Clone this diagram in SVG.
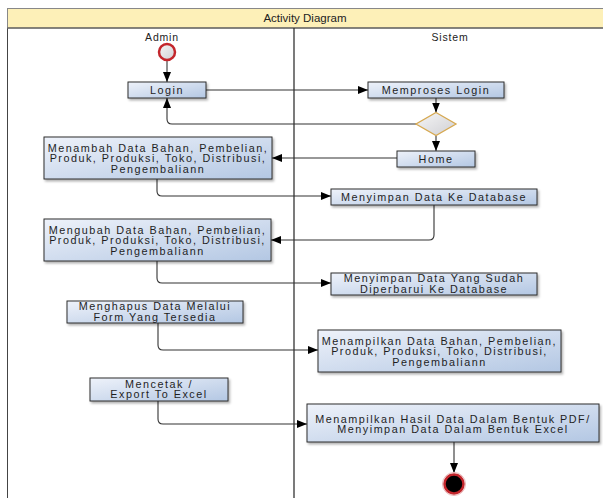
<svg xmlns="http://www.w3.org/2000/svg" width="603" height="498" viewBox="0 0 603 498">
<defs>
<linearGradient id="boxg" x1="0" y1="0" x2="1" y2="1">
<stop offset="0" stop-color="#eef2fa"/>
<stop offset="1" stop-color="#b3c7e3"/>
</linearGradient>
<linearGradient id="grayg" x1="0" y1="0" x2="1" y2="1">
<stop offset="0" stop-color="#f6f6f6"/>
<stop offset="1" stop-color="#cfcfd4"/>
</linearGradient>
<filter id="sh" x="-10%" y="-20%" width="130%" height="160%">
<feDropShadow dx="1.5" dy="2" stdDeviation="1.2" flood-color="#000" flood-opacity="0.3"/>
</filter>
<marker id="arr" viewBox="0 0 10 8" refX="10" refY="4" markerWidth="10" markerHeight="8" markerUnits="userSpaceOnUse" orient="auto">
<path d="M0,0 L10,4 L0,8 Z" fill="#000"/>
</marker>
<style>
.box{fill:url(#boxg);stroke:#2e2e2e;stroke-width:1;filter:url(#sh)}
.t{font-family:"Liberation Sans",Arial,sans-serif;font-size:10.8px;fill:#1e1e1e;text-anchor:middle;letter-spacing:1.5px}
.c{fill:none;stroke:#333;stroke-width:1.1}
.ca{fill:none;stroke:#333;stroke-width:1.1;marker-end:url(#arr)}
.hdr{font-family:"Liberation Sans",Arial,sans-serif;font-size:11.5px;fill:#222;text-anchor:middle}
</style>
</defs>
<rect width="603" height="498" fill="#fff"/>
<g id="frame">
<rect x="7.5" y="8.5" width="610" height="520" fill="none" stroke="#444" stroke-width="1"/>
<rect x="7.5" y="8.5" width="610" height="19.5" fill="#fdf0b8" stroke="#888" stroke-width="1"/>
<line x1="7.5" y1="28" x2="603" y2="28" stroke="#444" stroke-width="1"/>
<line x1="294" y1="28" x2="294" y2="498" stroke="#222" stroke-width="1.2"/>
<text class="hdr" x="305" y="22">Activity Diagram</text>
<text class="hdr" x="162" y="41" style="font-size:10.5px;letter-spacing:0.8px">Admin</text>
<text class="hdr" x="450" y="41" style="font-size:10.5px;letter-spacing:0.8px">Sistem</text>
</g>
<g id="connectors">
<path class="ca" d="M167,61 L167,82"/>
<path class="ca" d="M206,90 L368,90"/>
<path class="ca" d="M436,98 L436,112.5"/>
<path class="ca" d="M436,135.5 L436,151"/>
<path class="ca" d="M416,124 L172,124 Q167,124 167,119 L167,98"/>
<path class="ca" d="M397,158 L272,158"/>
<path class="ca" d="M157,179 L157,191 Q157,196 162,196 L331,196"/>
<path class="ca" d="M434,205 L434,235 Q434,240 429,240 L271,240"/>
<path class="ca" d="M157,261 L157,278 Q157,283 162,283 L331,283"/>
<path class="ca" d="M158,323 L158,345 Q158,350 163,350 L318,350"/>
<path class="ca" d="M158,401 L158,419 Q158,424 163,424 L307,424"/>
<path class="ca" d="M454,442 L454,473"/>
</g>
<g id="start">
<circle cx="167" cy="52" r="8" fill="url(#grayg)" stroke="#c3262c" stroke-width="2.5"/>
</g>
<g id="login">
<rect class="box" x="128" y="82" width="78" height="16"/>
<text class="t" x="167" y="94">Login</text>
</g>
<g id="memproses-login">
<rect class="box" x="368" y="82" width="136" height="16"/>
<text class="t" x="436" y="94">Memproses Login</text>
</g>
<g id="decision">
<polygon points="436,112.5 456,124 436,135.5 416,124" fill="url(#grayg)" stroke="#d6a850" stroke-width="1.3"/>
</g>
<g id="home">
<rect class="box" x="397" y="151" width="78" height="16"/>
<text class="t" x="436" y="163">Home</text>
</g>
<g id="menambah">
<rect class="box" x="44" y="137" width="228" height="42"/>
<text class="t" x="158" y="151.5">Menambah Data Bahan, Pembelian,</text>
<text class="t" x="158" y="162">Produk, Produksi, Toko, Distribusi,</text>
<text class="t" x="158" y="172.5">Pengembaliann</text>
</g>
<g id="menyimpan-db">
<rect class="box" x="331" y="189" width="206" height="16"/>
<text class="t" x="434" y="201">Menyimpan Data Ke Database</text>
</g>
<g id="mengubah">
<rect class="box" x="44" y="219" width="227" height="42"/>
<text class="t" x="157.5" y="233.5">Mengubah Data Bahan, Pembelian,</text>
<text class="t" x="157.5" y="244">Produk, Produksi, Toko, Distribusi,</text>
<text class="t" x="157.5" y="254.5">Pengembaliann</text>
</g>
<g id="menyimpan-diperbarui">
<rect class="box" x="331" y="273" width="206" height="22"/>
<text class="t" x="434" y="282">Menyimpan Data Yang Sudah</text>
<text class="t" x="434" y="292.5">Diperbarui Ke Database</text>
</g>
<g id="menghapus">
<rect class="box" x="67" y="301" width="176" height="22"/>
<text class="t" x="155" y="310">Menghapus Data Melalui</text>
<text class="t" x="155" y="320.5">Form Yang Tersedia</text>
</g>
<g id="menampilkan">
<rect class="box" x="318" y="330" width="243" height="42"/>
<text class="t" x="439.5" y="344.5">Menampilkan Data Bahan, Pembelian,</text>
<text class="t" x="439.5" y="355">Produk, Produksi, Toko, Distribusi,</text>
<text class="t" x="439.5" y="365.5">Pengembaliann</text>
</g>
<g id="mencetak">
<rect class="box" x="90" y="378" width="138" height="23"/>
<text class="t" x="159" y="387.5">Mencetak /</text>
<text class="t" x="159" y="398">Export To Excel</text>
</g>
<g id="menampilkan-hasil">
<rect class="box" x="307" y="404" width="292" height="38"/>
<text class="t" x="453" y="422.5">Menampilkan Hasil Data Dalam Bentuk PDF/</text>
<text class="t" x="453" y="433">Menyimpan Data Dalam Bentuk Excel</text>
</g>
<g id="end">
<circle cx="454" cy="484" r="9.5" fill="#000" stroke="#c3262c" stroke-width="2.5"/>
<circle cx="454" cy="484" r="11.5" fill="none" stroke="#e9b3b5" stroke-width="1"/>
</g>
</svg>
